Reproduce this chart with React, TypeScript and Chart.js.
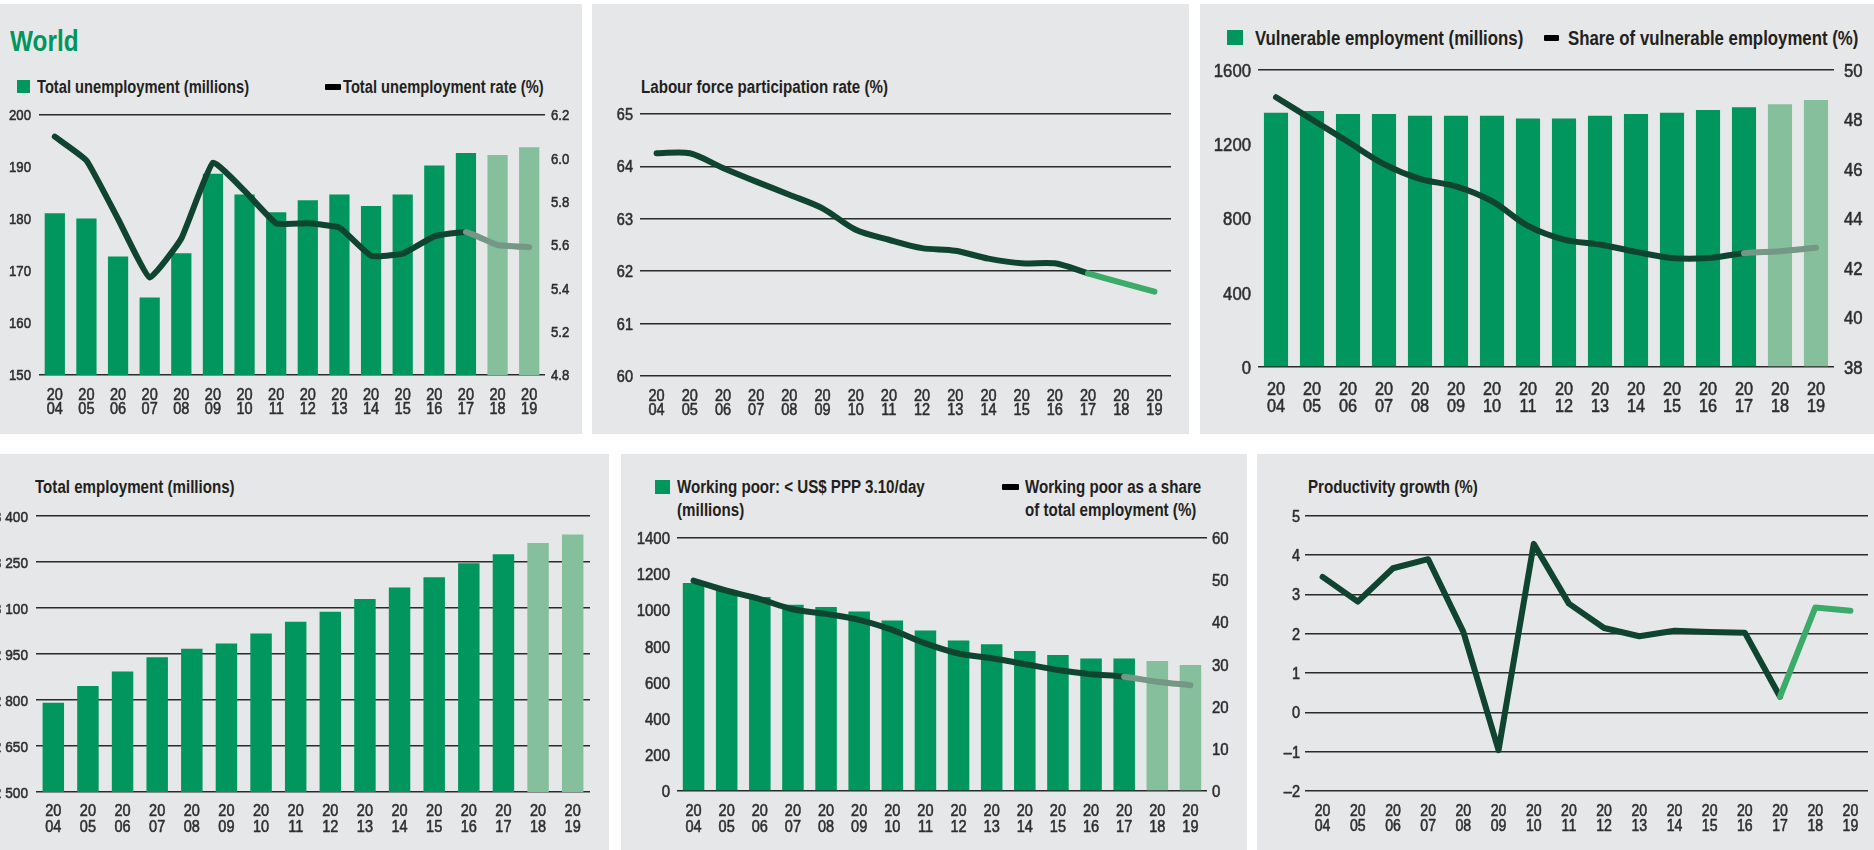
import React, { useEffect, useRef } from 'react';
import { Chart, registerables } from 'chart.js';

Chart.register(...registerables);

// ---------------- DATA ----------------
const years = ['2004', '2005', '2006', '2007', '2008', '2009', '2010', '2011', '2012', '2013', '2014', '2015', '2016', '2017', '2018', '2019'];
const PROJ_BAR_START = 14; // 2018 onwards are projections (bars)
const PROJ_LINE_START = 13; // line segment from 2017 onwards is projection

// Panel 1: World – unemployment
const unemploymentMillions = [181.1, 180.1, 172.8, 164.9, 173.4, 188.7, 184.7, 181.3, 183.6, 184.7, 182.5, 184.7, 190.3, 192.7, 192.3, 193.8];
const unemploymentRate = [6.1, 5.99, 5.72, 5.45, 5.63, 5.98, 5.85, 5.7, 5.7, 5.68, 5.55, 5.56, 5.64, 5.66, 5.6, 5.59];
const p1LeftTicks = [150, 160, 170, 180, 190, 200];
const p1LeftLabels = ['150', '160', '170', '180', '190', '200'];
const p1RightTicks = [5.0, 5.2, 5.4, 5.6, 5.8, 6.0, 6.2];
const p1RightLabels = ['4.8', '5.2', '5.4', '5.6', '5.8', '6.0', '6.2'];

// Panel 2: Labour force participation rate
const participationRate = [64.25, 64.25, 63.97, 63.71, 63.46, 63.2, 62.79, 62.6, 62.44, 62.39, 62.24, 62.15, 62.15, 61.96, 61.78, 61.61];
const p2Ticks = [60, 61, 62, 63, 64, 65];
const p2Labels = ['60', '61', '62', '63', '64', '65'];

// Panel 3: Vulnerable employment
const vulnerableMillions = [1370, 1379, 1363, 1363, 1354, 1354, 1354, 1339, 1339, 1354, 1363, 1370, 1384, 1399, 1415, 1438];
const vulnerableShare = [48.9, 48.0, 47.1, 46.2, 45.6, 45.3, 44.7, 43.7, 43.15, 42.95, 42.65, 42.4, 42.4, 42.6, 42.68, 42.82];
const p3LeftTicks = [0, 400, 800, 1200, 1600];
const p3LeftLabels = ['0', '400', '800', '1200', '1600'];
const p3RightTicks = [38, 40, 42, 44, 46, 48, 50];
const p3RightLabels = ['38', '40', '42', '44', '46', '48', '50'];

// Panel 4: Total employment
const totalEmployment = [2791, 2846, 2893, 2939, 2967, 2984, 3017, 3055, 3088, 3129, 3167, 3200, 3246, 3275, 3312, 3340];
const p4Ticks = [2500, 2650, 2800, 2950, 3100, 3250, 3400];
const p4Labels = ['2 500', '2 650', '2 800', '2 950', '3 100', '3 250', '3 400'];

// Panel 5: Working poor
const workingPoorMillions = [1151, 1110, 1073, 1030, 1018, 993, 944, 888, 833, 812, 775, 753, 733, 733, 720, 697];
const workingPoorShare = [49.9, 47.5, 45.5, 43.1, 42.0, 40.6, 38.2, 35.0, 32.6, 31.5, 30.1, 28.7, 27.7, 27.1, 25.9, 25.1];
const p5LeftTicks = [0, 200, 400, 600, 800, 1000, 1200, 1400];
const p5LeftLabels = ['0', '200', '400', '600', '800', '1000', '1200', '1400'];
const p5RightTicks = [0, 10, 20, 30, 40, 50, 60];
const p5RightLabels = ['0', '10', '20', '30', '40', '50', '60'];

// Panel 6: Productivity growth
const productivityGrowth = [3.45, 2.82, 3.67, 3.9, 2.05, -0.96, 4.29, 2.77, 2.15, 1.94, 2.08, 2.05, 2.03, 0.4, 2.67, 2.59];
const p6Ticks = [-2, -1, 0, 1, 2, 3, 4, 5];
const p6Labels = ['\u20132', '\u20131', '0', '1', '2', '3', '4', '5'];

// ---------------- STYLE ----------------
const FONT = "'Liberation Sans', Arial, 'DejaVu Sans', sans-serif";
const SX = 0.84; // horizontal condensing of the text (reference uses a condensed face)
const TICK_SX = 0.88;
const GREEN = '#00965e';
const GREEN_PROJ = '#86bf9b';
const LINE_DARK = '#0f4530';
const LINE_PROJ_GRAY = '#759886';
const LINE_PROJ_GREEN = '#3aab68';
const GRID = '#2a2a2a';
const PANEL_BG = '#e6e7e8';
const TEXT = '#231f20';
const TICK = '#2e2e2e';

type Rect = { x: number; y: number; w: number; h: number };
type Plot = { l: number; r: number; t: number; b: number };
type AxisSpec = { min: number; max: number; ticks: number[]; labels: string[]; pad: number; grid: 'all' | 'ends' | 'none' };

type PanelSpec = {
  canvas: Rect;
  plot: Plot;
  left: AxisSpec;
  right?: AxisSpec;
  bars?: number[];
  line?: number[];
  lineAxis?: 'yl' | 'yr';
  tension?: number;
  proj?: string;
  barPct?: number;
  tickSize: number;
  xSize: number;
  xFirst: number; // offset of first label line centre below plot bottom
  xGap: number; // distance between the two label lines
};

function yScale(spec: AxisSpec, position: 'left' | 'right', width: number) {
  return {
    type: 'linear',
    position,
    min: spec.min,
    max: spec.max,
    afterBuildTicks: (ax: any) => {
      ax.ticks = spec.ticks.map((v) => ({ value: v }));
    },
    afterFit: (ax: any) => {
      ax.width = width;
    },
    ticks: { display: false, autoSkip: false },
    grid: {
      display: spec.grid !== 'none',
      drawTicks: false,
      lineWidth: 1.6,
      color: (ctx: any) => {
        const v = ctx.tick ? ctx.tick.value : null;
        if (spec.grid === 'all') return GRID;
        if (v === spec.min || v === spec.max) return GRID;
        return 'rgba(0,0,0,0)';
      },
    },
    border: { display: false },
  };
}

function drawCondensed(ctx: CanvasRenderingContext2D, text: string, x: number, y: number, align: CanvasTextAlign, sx: number) {
  ctx.save();
  ctx.translate(x, y);
  ctx.scale(sx, 1);
  ctx.textAlign = align;
  ctx.textBaseline = 'alphabetic';
  ctx.fillText(text, 0, 0);
  ctx.strokeText(text, 0, 0);
  ctx.restore();
}

function tickPlugin(p: PanelSpec) {
  return {
    id: 'condensedTicks',
    afterDraw(chart: any) {
      const ctx: CanvasRenderingContext2D = chart.ctx;
      ctx.save();
      ctx.fillStyle = TICK;
      ctx.strokeStyle = TICK;
      ctx.lineWidth = 0.55;
      ctx.lineJoin = 'round';
      ctx.font = `${p.tickSize}px ${FONT}`;
      const capHalf = p.tickSize * 0.358;
      const yl = chart.scales.yl;
      p.left.labels.forEach((lab, i) => {
        const y = yl.getPixelForValue(p.left.ticks[i]);
        drawCondensed(ctx, lab, yl.right - p.left.pad, y + capHalf, 'right', TICK_SX);
      });
      if (p.right && chart.scales.yr) {
        const yr = chart.scales.yr;
        p.right.labels.forEach((lab, i) => {
          const y = yr.getPixelForValue(p.right!.ticks[i]);
          drawCondensed(ctx, lab, yr.left + p.right!.pad, y + capHalf, 'left', TICK_SX);
        });
      }
      const xs = chart.scales.x;
      ctx.font = `${p.xSize}px ${FONT}`;
      const xCap = p.xSize * 0.358;
      const base = chart.chartArea.bottom;
      years.forEach((yr, i) => {
        const x = xs.getPixelForTick(i);
        drawCondensed(ctx, yr.slice(0, 2), x, base + p.xFirst + xCap, 'center', TICK_SX);
        drawCondensed(ctx, yr.slice(2), x, base + p.xFirst + p.xGap + xCap, 'center', TICK_SX);
      });
      ctx.restore();
    },
  };
}

function buildConfig(p: PanelSpec): any {
  const cRight = p.canvas.x + p.canvas.w;
  const cBottom = p.canvas.y + p.canvas.h;
  const leftW = p.plot.l - p.canvas.x;
  const rightW = cRight - p.plot.r;
  const xH = cBottom - p.plot.b;
  const scales: any = {
    x: {
      type: 'category',
      offset: true,
      afterFit: (ax: any) => {
        ax.height = xH;
      },
      grid: { display: false, drawTicks: false },
      border: { display: false },
      ticks: { display: false, autoSkip: false, maxRotation: 0, minRotation: 0 },
    },
    yl: yScale(p.left, 'left', leftW),
  };
  if (p.right) scales.yr = yScale(p.right, 'right', rightW);

  const datasets: any[] = [];
  if (p.line) {
    const proj = p.proj || LINE_PROJ_GRAY;
    datasets.push({
      type: 'line',
      data: p.line,
      yAxisID: p.lineAxis || 'yl',
      borderColor: LINE_DARK,
      borderWidth: 6,
      pointRadius: 0,
      pointHoverRadius: 0,
      tension: p.tension ?? 0,
      borderCapStyle: 'round',
      borderJoinStyle: 'round',
      fill: false,
      clip: false,
      order: 0,
      segment: {
        borderColor: (ctx: any) => (ctx.p0DataIndex >= PROJ_LINE_START ? proj : undefined),
      },
    });
  }
  if (p.bars) {
    datasets.push({
      type: 'bar',
      data: p.bars,
      yAxisID: 'yl',
      backgroundColor: p.bars.map((_, i) => (i >= PROJ_BAR_START ? GREEN_PROJ : GREEN)),
      barPercentage: p.barPct ?? 0.64,
      categoryPercentage: 1,
      order: 1,
    });
  }

  return {
    type: 'bar',
    data: { labels: years, datasets },
    options: {
      responsive: false,
      maintainAspectRatio: false,
      animation: false,
      events: [],
      layout: {
        padding: {
          left: 0,
          right: p.right ? 0 : rightW,
          top: p.plot.t - p.canvas.y,
          bottom: 0,
        },
      },
      plugins: { legend: { display: false }, tooltip: { enabled: false }, title: { display: false } },
      scales,
    },
    plugins: [tickPlugin(p)],
  };
}

function ChartCanvas({ spec }: { spec: PanelSpec }) {
  const ref = useRef<HTMLCanvasElement>(null);
  useEffect(() => {
    const chart = new Chart(ref.current as HTMLCanvasElement, buildConfig(spec));
    return () => chart.destroy();
  }, []);
  const r = spec.canvas;
  return (
    <canvas
      ref={ref}
      width={r.w}
      height={r.h}
      style={{ position: 'absolute', left: r.x, top: r.y, width: r.w, height: r.h }}
    />
  );
}

function Label({ x, cy, size, text, color = TEXT, weight = 700 }: { x: number; cy: number; size: number; text: string; color?: string; weight?: number }) {
  const lineH = Math.round(size * 1.2);
  return (
    <div
      style={{
        position: 'absolute',
        left: x,
        top: cy - lineH / 2,
        fontFamily: FONT,
        fontSize: size,
        fontWeight: weight,
        lineHeight: `${lineH}px`,
        color,
        whiteSpace: 'nowrap',
        transform: `scaleX(${SX})`,
        transformOrigin: 'left center',
      }}
    >
      {text}
    </div>
  );
}

function Box({ x, y, w, h, color, radius = 0 }: { x: number; y: number; w: number; h: number; color: string; radius?: number }) {
  return <div style={{ position: 'absolute', left: x, top: y, width: w, height: h, background: color, borderRadius: radius }} />;
}

// ---------------- PANELS ----------------
const panel1: PanelSpec = {
  canvas: { x: 0, y: 4, w: 582, h: 430 },
  plot: { l: 39, r: 545, t: 115, b: 375 },
  left: { min: 150, max: 200, ticks: p1LeftTicks, labels: p1LeftLabels, pad: 8, grid: 'ends' },
  right: { min: 5.0, max: 6.2, ticks: p1RightTicks, labels: p1RightLabels, pad: 6, grid: 'none' },
  bars: unemploymentMillions,
  line: unemploymentRate,
  lineAxis: 'yr',
  tension: 0.12,
  proj: LINE_PROJ_GRAY,
  barPct: 0.64,
  tickSize: 15,
  xSize: 16.5,
  xFirst: 18.7,
  xGap: 14.6,
};

const panel2: PanelSpec = {
  canvas: { x: 592, y: 4, w: 597, h: 430 },
  plot: { l: 640, r: 1171, t: 114, b: 376 },
  left: { min: 60, max: 65, ticks: p2Ticks, labels: p2Labels, pad: 7, grid: 'all' },
  line: participationRate,
  lineAxis: 'yl',
  tension: 0.3,
  proj: LINE_PROJ_GREEN,
  tickSize: 16.5,
  xSize: 16.5,
  xFirst: 19,
  xGap: 14.5,
};

const panel3: PanelSpec = {
  canvas: { x: 1200, y: 4, w: 674, h: 430 },
  plot: { l: 1258, r: 1834, t: 70, b: 367 },
  left: { min: 0, max: 1600, ticks: p3LeftTicks, labels: p3LeftLabels, pad: 7, grid: 'ends' },
  right: { min: 38, max: 50, ticks: p3RightTicks, labels: p3RightLabels, pad: 10, grid: 'none' },
  bars: vulnerableMillions,
  line: vulnerableShare,
  lineAxis: 'yr',
  tension: 0.35,
  proj: LINE_PROJ_GRAY,
  barPct: 0.67,
  tickSize: 19,
  xSize: 18.5,
  xFirst: 21,
  xGap: 17.5,
};

const panel4: PanelSpec = {
  canvas: { x: -40, y: 454, w: 649, h: 396 },
  plot: { l: 36, r: 590, t: 516, b: 792 },
  left: { min: 2500, max: 3400, ticks: p4Ticks, labels: p4Labels, pad: 8, grid: 'all' },
  bars: totalEmployment,
  barPct: 0.62,
  tickSize: 15.5,
  xSize: 16.5,
  xFirst: 18,
  xGap: 16,
};

const panel5: PanelSpec = {
  canvas: { x: 621, y: 454, w: 626, h: 396 },
  plot: { l: 677, r: 1207, t: 538, b: 791 },
  left: { min: 0, max: 1400, ticks: p5LeftTicks, labels: p5LeftLabels, pad: 7, grid: 'ends' },
  right: { min: 0, max: 60, ticks: p5RightTicks, labels: p5RightLabels, pad: 5, grid: 'none' },
  bars: workingPoorMillions,
  line: workingPoorShare,
  lineAxis: 'yr',
  tension: 0.35,
  proj: LINE_PROJ_GRAY,
  barPct: 0.65,
  tickSize: 17,
  xSize: 16.5,
  xFirst: 19,
  xGap: 16,
};

const panel6: PanelSpec = {
  canvas: { x: 1257, y: 454, w: 627, h: 396 },
  plot: { l: 1305, r: 1868, t: 516, b: 791 },
  left: { min: -2, max: 5, ticks: p6Ticks, labels: p6Labels, pad: 5, grid: 'all' },
  line: productivityGrowth,
  lineAxis: 'yl',
  tension: 0,
  proj: LINE_PROJ_GREEN,
  tickSize: 16.5,
  xSize: 16,
  xFirst: 19,
  xGap: 15,
};

export default function App() {
  return (
    <div
      style={{
        position: 'absolute',
        left: 0,
        top: 0,
        width: 1874,
        height: 850,
        overflow: 'hidden',
        background: '#ffffff',
      }}
    >
      {/* panel backgrounds */}
      <Box x={0} y={4} w={582} h={430} color={PANEL_BG} />
      <Box x={592} y={4} w={597} h={430} color={PANEL_BG} />
      <Box x={1200} y={4} w={674} h={430} color={PANEL_BG} />
      <Box x={0} y={454} w={609} h={396} color={PANEL_BG} />
      <Box x={621} y={454} w={626} h={396} color={PANEL_BG} />
      <Box x={1257} y={454} w={617} h={396} color={PANEL_BG} />

      {/* Panel 1 texts */}
      <Label x={10} cy={41} size={29} text="World" color={GREEN} />
      <Box x={17} y={80} w={13} h={13} color={GREEN} />
      <Label x={37} cy={87} size={17.5} text="Total unemployment (millions)" />
      <Box x={325} y={84} w={16} h={6} color="#000" radius={1} />
      <Label x={343} cy={87} size={17.5} text="Total unemployment rate (%)" />

      {/* Panel 2 texts */}
      <Label x={641} cy={87} size={18} text="Labour force participation rate (%)" />

      {/* Panel 3 texts */}
      <Box x={1227} y={30} w={16} h={15} color={GREEN} />
      <Label x={1255} cy={38} size={20} text="Vulnerable employment (millions)" />
      <Box x={1544} y={35} w={15} h={6} color="#000" radius={1} />
      <Label x={1568} cy={38} size={20} text="Share of vulnerable employment (%)" />

      {/* Panel 4 texts */}
      <Label x={35} cy={487} size={18} text="Total employment (millions)" />

      {/* Panel 5 texts */}
      <Box x={655} y={480} w={15} h={14} color={GREEN} />
      <Label x={677} cy={487} size={18} text="Working poor: < US$ PPP 3.10/day" />
      <Label x={677} cy={510} size={18} text="(millions)" />
      <Box x={1002} y={484} w={17} h={6} color="#000" radius={1} />
      <Label x={1025} cy={487} size={18} text="Working poor as a share" />
      <Label x={1025} cy={510} size={18} text="of total employment (%)" />

      {/* Panel 6 texts */}
      <Label x={1308} cy={487} size={18} text="Productivity growth (%)" />

      <ChartCanvas spec={panel1} />
      <ChartCanvas spec={panel2} />
      <ChartCanvas spec={panel3} />
      <ChartCanvas spec={panel4} />
      <ChartCanvas spec={panel5} />
      <ChartCanvas spec={panel6} />
    </div>
  );
}
